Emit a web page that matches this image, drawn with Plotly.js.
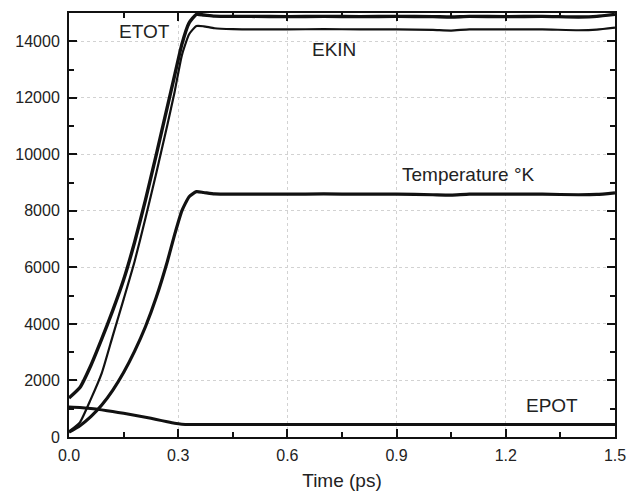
<!DOCTYPE html>
<html>
<head>
<meta charset="utf-8">
<script src="https://cdn.plot.ly/plotly-3.0.1.min.js"></script>
<style>
  html, body { margin: 0; padding: 0; background: #fff; }
  #chart { width: 627px; height: 491px; }
</style>
</head>
<body>
<div id="chart"></div>
<script>
// Time axis (ps)
const time = [0, 0.03, 0.06, 0.09, 0.12, 0.15, 0.18, 0.21, 0.24, 0.27, 0.29, 0.31, 0.33, 0.35, 0.37, 0.40, 0.45, 0.50, 0.60, 0.70, 0.80, 0.90, 1.00, 1.05, 1.10, 1.20, 1.30, 1.40, 1.45, 1.50];

// Series values
const etot = [1380, 1750, 2530, 3470, 4470, 5560, 6880, 8380, 10000, 11670, 12780, 13890, 14650, 14950, 14930, 14890, 14880, 14880, 14870, 14880, 14870, 14880, 14870, 14860, 14880, 14870, 14880, 14860, 14880, 14950];
const ekin = [200, 520, 1340, 2260, 3570, 4870, 6200, 7740, 9350, 11030, 12200, 13500, 14250, 14540, 14530, 14460, 14430, 14420, 14420, 14430, 14420, 14420, 14400, 14380, 14420, 14420, 14420, 14390, 14410, 14480];
const temperature = [170, 400, 720, 1130, 1650, 2280, 3030, 3900, 4950, 6200, 7150, 8000, 8500, 8680, 8650, 8600, 8590, 8590, 8590, 8600, 8590, 8590, 8570, 8560, 8590, 8590, 8590, 8570, 8580, 8640];
const epot = [1060, 1045, 1010, 960, 900, 840, 770, 700, 620, 540, 490, 455, 440, 440, 440, 440, 440, 440, 440, 440, 440, 440, 440, 440, 440, 440, 440, 440, 440, 440];

// Tick labels
const xTickVals = [0, 0.3, 0.6, 0.9, 1.2, 1.5];
const xTickText = ["0.0", "0.3", "0.6", "0.9", "1.2", "1.5"];
const yTickVals = [0, 2000, 4000, 6000, 8000, 10000, 12000, 14000];
const yTickText = ["0", "2000", "4000", "6000", "8000", "10000", "12000", "14000"];

// Curve labels
const labelText = ["ETOT", "EKIN", "Temperature °K", "EPOT"];
const labelX = [0.1387, 0.486, 0.7325, 0.8846];
const labelY = [0.956, 0.915, 0.618, 0.074];

const font = "Liberation Sans, Arial, Helvetica, sans-serif";

function line(y, w) {
  return {
    x: time, y: y, type: "scatter", mode: "lines",
    line: { color: "#111", width: w, shape: "spline", smoothing: 0.5 },
    hoverinfo: "skip", showlegend: false
  };
}

const data = [
  line(epot, 3),
  line(temperature, 3.2),
  line(ekin, 2.2),
  line(etot, 3.4)
];

const axisCommon = {
  showline: true, linecolor: "#111", linewidth: 2, mirror: "ticks",
  ticks: "inside", ticklen: 8, tickwidth: 2, tickcolor: "#111",
  showgrid: true, gridcolor: "#d2d2d2", gridwidth: 1, griddash: "dot",
  zeroline: false,
  tickfont: { family: font, size: 16, color: "#222" }
};

const layout = {
  width: 627, height: 491,
  margin: { l: 69, r: 12, t: 13, b: 54 },
  paper_bgcolor: "#fff", plot_bgcolor: "#fff",
  font: { family: font, color: "#222" },
  xaxis: Object.assign({}, axisCommon, {
    range: [0, 1.5], tickmode: "array", tickvals: xTickVals, ticktext: xTickText,
    ticklabelstandoff: 3,
    minor: { ticks: "inside", ticklen: 5, tickwidth: 2, tickcolor: "#111", dtick: 0.15, tick0: 0, showgrid: false },
    title: { text: "Time (ps)", font: { family: font, size: 19, color: "#222" }, standoff: 12 }
  }),
  yaxis: Object.assign({}, axisCommon, {
    range: [0, 15000], tickmode: "array", tickvals: yTickVals, ticktext: yTickText,
    minor: { ticks: "inside", ticklen: 5, tickwidth: 2, tickcolor: "#111", dtick: 1000, tick0: 0, showgrid: false },
    ticklabelstandoff: 4
  }),
  annotations: labelText.map((t, i) => ({
    text: t, xref: "paper", yref: "paper", x: labelX[i], y: labelY[i],
    xanchor: "center", yanchor: "middle", showarrow: false,
    font: { family: font, size: 19, color: "#222" }
  }))
};

Plotly.newPlot("chart", data, layout, { staticPlot: true, displayModeBar: false });
</script>
</body>
</html>
